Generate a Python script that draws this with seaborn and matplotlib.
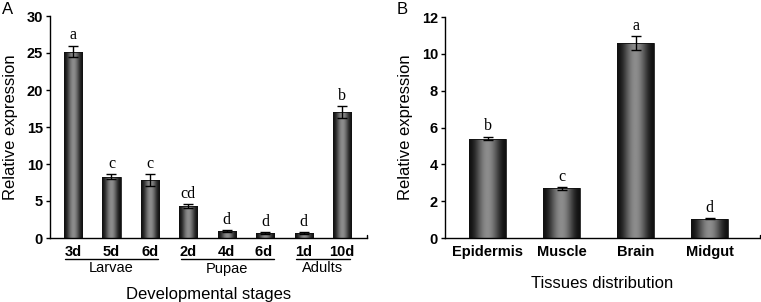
import numpy as np
import pandas as pd
import matplotlib
matplotlib.use("Agg")
import matplotlib.pyplot as plt
import matplotlib.transforms as mtransforms
import seaborn as sns

# ---- data ----
stage_labels = ["3d", "5d", "6d", "2d", "4d", "6d ", "1d", "10d"]
stage_values = [25.2, 8.3, 7.8, 4.3, 0.9, 0.7, 0.7, 17.0]
stage_errors = [0.8, 0.35, 0.8, 0.25, 0.12, 0.12, 0.12, 0.8]
stage_letters = ["a", "c", "c", "cd", "d", "d", "d", "b"]
groups = ["Larvae", "Pupae", "Adults"]
group_spans = [(0, 2), (3, 5), (6, 7)]

tissue_labels = ["Epidermis", "Muscle", "Brain", "Midgut"]
tissue_values = [5.4, 2.7, 10.6, 1.05]
tissue_errors = [0.1, 0.08, 0.38, 0.03]
tissue_letters = ["b", "c", "a", "d"]

sns.set_theme(style="white")
plt.rcParams["font.family"] = ["Liberation Sans", "DejaVu Sans"]

fig = plt.figure(figsize=(7.61, 3.02), dpi=100)
axA = fig.add_axes([50/761, 1-238/302, (367-50)/761, (238-16)/302])
axB = fig.add_axes([445/761, 1-238/302, (760-445)/761, (238-17)/302])

# cylindrical gradient
xs = np.linspace(-1, 1, 256)
prof = np.cos(xs * np.pi / 2) ** 2.0
grad = (0.07 + 0.48 * prof)[None, :]
cmap = plt.get_cmap("gray")


def draw(ax, labels, values, errors, letters, ymax, step, width):
    df = pd.DataFrame({"cat": labels, "val": values})
    sns.barplot(data=df, x="cat", y="val", color="#444444", width=width,
                errorbar=None, ax=ax, edgecolor="#111111", linewidth=0.6)
    centers = []
    for p, v, e, l in zip(ax.patches, values, errors, letters):
        x0, w = p.get_x(), p.get_width()
        y0, h = p.get_y(), p.get_height()
        im = ax.imshow(grad, cmap=cmap, vmin=0, vmax=1, aspect="auto",
                       extent=[x0, x0 + w, y0, y0 + h], zorder=2,
                       interpolation="bilinear")
        im.set_clip_path(p)
        p.set_facecolor("none")
        p.set_zorder(3)
        cx = x0 + w / 2
        centers.append(cx)
        ax.errorbar([cx], [v], yerr=[e], fmt="none", ecolor="black",
                    elinewidth=1.0, capsize=3.5, capthick=1.0, zorder=4)
        ax.text(cx, v + e + ymax * 0.010, l, ha="center", va="bottom",
                fontsize=11.5, family=["Liberation Serif"], color="black",
                zorder=5)
    ax.set_ylim(0, ymax)
    ax.set_yticks(np.arange(0, ymax + 0.01, step))
    ax.set_xlabel("")
    ax.set_ylabel("Relative expression", fontsize=12, color="black", labelpad=6)
    sns.despine(ax=ax)
    for s in ["left", "bottom"]:
        ax.spines[s].set_color("black")
        ax.spines[s].set_linewidth(1.0)
    ax.tick_params(axis="y", left=True, direction="out", length=3, width=1,
                   labelsize=10.5, pad=2, colors="black")
    ax.tick_params(axis="x", bottom=False, length=0, labelsize=10.5, pad=5,
                   colors="black")
    for t in ax.get_xticklabels() + ax.get_yticklabels():
        t.set_fontweight("bold")
    # small upward tick at the right end of the x axis
    ax.plot([1, 1], [0, 0.012], transform=ax.transAxes, color="black",
            lw=1, clip_on=False)
    return centers


cA = draw(axA, stage_labels, stage_values, stage_errors, stage_letters, 30, 5, 0.47)
axA.set_xlim(-0.6, 7.65)
cB = draw(axB, tissue_labels, tissue_values, tissue_errors, tissue_letters, 12, 2, 0.5)
axB.set_xlim(-0.58, 3.68)

# group underlines for panel A
trans = mtransforms.blended_transform_factory(axA.transData, axA.transAxes)
for g, (a, b) in zip(groups, group_spans):
    y_line = -(258.5 - 238) / 222
    axA.plot([cA[a] - 0.2, cA[b] + 0.22], [y_line, y_line], transform=trans,
             color="black", lw=1, clip_on=False)
    axA.text((cA[a] + cA[b]) / 2, -(268.5 - 238) / 222, g, transform=trans,
             ha="center", va="center", fontsize=10.5, color="black")

axA.text(0.5, -(295 - 238) / 222, "Developmental stages", transform=axA.transAxes,
         ha="center", va="center", fontsize=12, color="black")
axB.text(0.5, -(283 - 238) / 221, "Tissues distribution", transform=axB.transAxes,
         ha="center", va="center", fontsize=12, color="black")

fig.text(8/761, 1 - 9/302, "A", fontsize=12, ha="center", va="center", color="black")
fig.text(402/761, 1 - 10/302, "B", fontsize=12, ha="center", va="center", color="black")

fig.savefig("out.png", dpi=100)
